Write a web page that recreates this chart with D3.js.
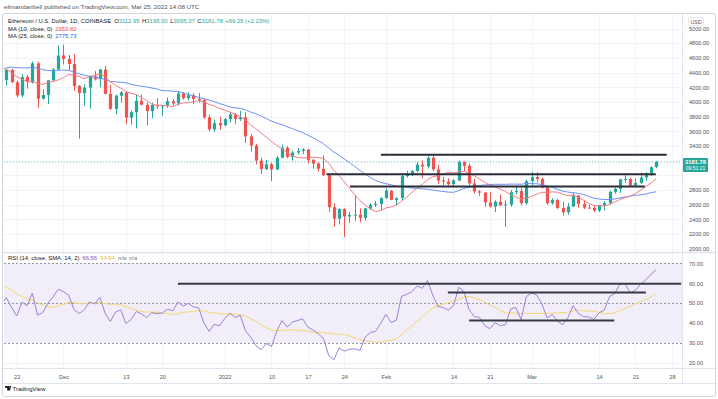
<!DOCTYPE html>
<html>
<head>
<meta charset="utf-8">
<script src="https://cdn.jsdelivr.net/npm/d3@7/dist/d3.min.js"></script>
<style>
  body { margin: 0; background: #fff; }
  svg { display: block; font-family: "Liberation Sans", Arial, sans-serif; }
</style>
</head>
<body>
<svg id="chart" width="718" height="399"></svg>
<script>
// ---- data (ETH/USD daily, Coinbase) ----
const firstDay = '2021-11-20'
// closes before the visible window, only used to warm up MA / RSI
const priorCloses = [3310, 3390, 3418, 3380, 3518, 3580, 3587, 3560, 3575, 3415,
  3543, 3493, 3606, 3788, 3867, 3829, 3847, 3748, 3877, 4155,
  4056, 3973, 4170, 4085, 4219, 4131, 3928, 4285, 4417, 4325,
  4288, 4323, 4587, 4606, 4531, 4475, 4519, 4617, 4811, 4731,
  4636, 4724, 4666, 4647, 4628, 4567, 4210, 4286, 3994, 4298]

const opens = [4297, 4437, 4268, 4088, 4340, 4270, 4525, 4043, 4095, 4295,
  4443, 4632, 4585, 4516, 4218, 4120, 4195, 4350, 4310, 4440,
  4110, 3905, 4085, 4130, 3785, 3860, 4015, 3960, 3875, 3960,
  3940, 3950, 4010, 3980, 4115, 4050, 4090, 4040, 4025, 3790,
  3625, 3710, 3680, 3765, 3830, 3765, 3790, 3530, 3405, 3200,
  3085, 3150, 3080, 3240, 3375, 3250, 3310, 3330, 3350, 3210,
  3160, 3090, 3000, 2565, 2410, 2540, 2440, 2460, 2465, 2420,
  2550, 2600, 2610, 2690, 2790, 2665, 2690, 2990, 3020, 3060,
  3145, 3120, 3240, 3080, 2930, 2915, 2880, 2930, 3180, 3130,
  2890, 2780, 2765, 2630, 2575, 2640, 2590, 2600, 2770, 2785,
  2620, 2920, 2975, 2950, 2835, 2620, 2665, 2555, 2495, 2575,
  2725, 2610, 2560, 2555, 2520, 2590, 2620, 2775, 2815, 2945,
  2950, 2860, 2895, 2970, 3030, 3112.95]
const highs = [4440, 4450, 4290, 4380, 4370, 4550, 4550, 4170, 4300, 4460,
  4770, 4780, 4640, 4650, 4230, 4240, 4360, 4420, 4450, 4490,
  4230, 4100, 4150, 4140, 3880, 4100, 4100, 3990, 3990, 4050,
  3960, 4060, 4040, 4150, 4130, 4130, 4120, 4120, 4040, 3830,
  3760, 3800, 3780, 3860, 3850, 3880, 3860, 3560, 3430, 3240,
  3210, 3170, 3260, 3420, 3400, 3330, 3370, 3370, 3360, 3220,
  3180, 3270, 3020, 2620, 2550, 2550, 2500, 2720, 2550, 2560,
  2620, 2650, 2700, 2820, 2800, 2700, 3030, 3060, 3070, 3180,
  3200, 3260, 3280, 3140, 2980, 2960, 2950, 3200, 3190, 3160,
  2950, 2800, 2770, 2770, 2660, 2740, 2660, 2800, 2850, 2830,
  2940, 3050, 3040, 2970, 2850, 2690, 2680, 2640, 2620, 2760,
  2730, 2660, 2600, 2580, 2600, 2650, 2790, 2830, 2950, 3000,
  2960, 2960, 3040, 3040, 3120, 3195]
const lows = [4220, 4260, 4060, 4060, 4180, 4250, 3920, 4030, 3970, 4280,
  4430, 4510, 4430, 4150, 3500, 3950, 3910, 4290, 4200, 4100,
  3890, 3830, 3990, 3700, 3690, 3640, 3955, 3680, 3780, 3900,
  3810, 3920, 3950, 3950, 4030, 4020, 3970, 3990, 3770, 3600,
  3590, 3620, 3670, 3720, 3700, 3740, 3440, 3320, 3150, 3020,
  3070, 2920, 3070, 3230, 3230, 3200, 3280, 3290, 3160, 3090,
  3050, 2990, 2500, 2300, 2330, 2160, 2350, 2380, 2360, 2380,
  2530, 2570, 2520, 2680, 2660, 2590, 2660, 2970, 2990, 3040,
  2960, 3090, 3060, 2880, 2860, 2860, 2830, 2920, 3060, 2860,
  2750, 2720, 2570, 2560, 2500, 2580, 2300, 2570, 2740, 2590,
  2600, 2860, 2900, 2820, 2600, 2600, 2540, 2450, 2460, 2570,
  2560, 2540, 2550, 2500, 2500, 2520, 2600, 2750, 2760, 2900,
  2850, 2850, 2880, 2930, 2990, 3095.37]
const closes = [4437, 4268, 4088, 4340, 4270, 4525, 4043, 4095, 4295, 4443,
  4632, 4585, 4516, 4218, 4120, 4195, 4350, 4310, 4440, 4110,
  3905, 4085, 4130, 3785, 3860, 4015, 3960, 3875, 3960, 3940,
  3950, 4010, 3980, 4115, 4050, 4090, 4040, 4025, 3790, 3625,
  3710, 3680, 3765, 3830, 3765, 3790, 3530, 3405, 3200, 3085,
  3150, 3080, 3240, 3375, 3250, 3310, 3330, 3350, 3210, 3160,
  3090, 3000, 2565, 2410, 2540, 2440, 2460, 2465, 2420, 2550,
  2600, 2610, 2690, 2790, 2665, 2690, 2990, 3020, 3060, 3145,
  3120, 3240, 3080, 2930, 2915, 2880, 2930, 3180, 3130, 2890,
  2780, 2765, 2630, 2575, 2640, 2590, 2600, 2770, 2785, 2620,
  2920, 2975, 2950, 2835, 2620, 2665, 2555, 2495, 2575, 2725,
  2610, 2560, 2555, 2520, 2590, 2620, 2775, 2815, 2945, 2950,
  2860, 2895, 2970, 3030, 3110, 3181.78]

// time axis labels
const tickDates = ['2021-11-22', '2021-12-01', '2021-12-13', '2021-12-20', '2022-01-01',
  '2022-01-10', '2022-01-17', '2022-01-24', '2022-02-01', '2022-02-14', '2022-02-21',
  '2022-03-01', '2022-03-14', '2022-03-21', '2022-03-28']
const tickLabels = ['22', 'Dec', '13', '20', '2022', '10', '17', '24', 'Feb', '14', '21',
  'Mar', '14', '21', '28']
const priceTicks = d3.range(2000, 5001, 200)
const rsiTicks = [20, 30, 40, 50, 60, 70]

// author's horizontal lines
const levelStart = ['2022-01-31T01:00Z', '2022-01-20T14:00Z', '2022-01-25T02:00Z']
const levelEnd = ['2022-03-27T00:00Z', '2022-03-24T22:00Z', '2022-03-22T19:00Z']
const levelPrice = [3279, 3014, 2847]
const rsiLevelStart = ['2021-12-23T00:00Z', '2022-02-12T22:00Z', '2022-02-17T00:00Z']
const rsiLevelEnd = ['2022-03-29T19:00Z', '2022-03-23T00:00Z', '2022-03-16T22:00Z']
const rsiLevelValue = [59.8, 55.3, 41.3]

// legend values
const ohlcLegend = ['3112.95', '3195.00', '3095.37', '3181.78']
const changeLegend = '+69.26 (+2.23%)'
const ma10Legend = '2953.82'
const ma25Legend = '2775.73'
const rsiLegend = ['66.56', '54.84']

// ---- derived ----
const day0 = new Date(firstDay + 'T00:00:00Z')
const bars = closes.map((c, i) => ({
  date: d3.utcDay.offset(day0, i), o: opens[i], h: highs[i], l: lows[i], c: c
}))
const allCloses = priorCloses.concat(closes)
const off = priorCloses.length

function sma (arr, n, i) {
  if (i < n - 1) return null
  let s = 0
  for (let k = i - n + 1; k <= i; k++) s += arr[k]
  return s / n
}
const ma10 = bars.map((b, i) => ({ date: b.date, v: sma(allCloses, 10, i + off) }))
const ma25 = bars.map((b, i) => ({ date: b.date, v: sma(allCloses, 25, i + off) }))

// RSI 14 (Wilder)
const rsiAll = new Array(allCloses.length).fill(null)
let up = 0, dn = 0
for (let i = 1; i < allCloses.length; i++) {
  const ch = allCloses[i] - allCloses[i - 1]
  const u = Math.max(ch, 0), d = Math.max(-ch, 0)
  if (i <= 14) {
    up += u / 14; dn += d / 14
  } else {
    up = (up * 13 + u) / 14; dn = (dn * 13 + d) / 14
  }
  if (i >= 14) rsiAll[i] = dn === 0 ? 100 : 100 - 100 / (1 + up / dn)
}
const rsiSmaAll = rsiAll.map((v, i) => {
  if (i < 27) return null
  return d3.mean(rsiAll.slice(i - 13, i + 1))
})
// include the day before the window so lines reach the left edge
const rsiLine = d3.range(-1, closes.length).map(i => ({ date: d3.utcDay.offset(day0, i), v: rsiAll[i + off] }))
const rsiSmaLine = d3.range(-1, closes.length).map(i => ({ date: d3.utcDay.offset(day0, i), v: rsiSmaAll[i + off] }))
ma10.unshift({ date: d3.utcDay.offset(day0, -1), v: sma(allCloses, 10, off - 1) })
ma25.unshift({ date: d3.utcDay.offset(day0, -1), v: sma(allCloses, 25, off - 1) })

// ---- layout ----
const svg = d3.select('#chart')
const plotL = 4, plotR = 682
const mainTop = 14, mainBot = 252, rsiBot = 368

const x = d3.scaleUtc()
  .domain([day0, d3.utcDay.offset(day0, 125)])
  .range([6.3, 656.3])
const y = d3.scaleLinear().domain([2000, 5000]).range([248.7, 28.5])
const yr = d3.scaleLinear().domain([20, 70]).range([363, 263.3])
const dayPx = x(d3.utcDay.offset(day0, 1)) - x(day0)
const bodyW = dayPx * 0.62

const green = '#26a69a', red = '#ef5350', grid = '#f0f3fa', txt = '#131722', axisTxt = '#50535e'
const lastPrice = closes[closes.length - 1]
const lastY = y(lastPrice)

svg.append('defs').append('clipPath').attr('id', 'clipMain')
  .append('rect').attr('x', plotL).attr('y', mainTop).attr('width', plotR - plotL).attr('height', mainBot - mainTop)
svg.select('defs').append('clipPath').attr('id', 'clipRsi')
  .append('rect').attr('x', plotL).attr('y', mainBot).attr('width', plotR - plotL).attr('height', rsiBot - mainBot)

// header
svg.append('text').attr('x', 4).attr('y', 9)
  .attr('font-size', 6.2).attr('fill', '#50535e')
  .text('elimandanbell published on TradingView.com, Mar 25, 2022 14:08 UTC')

// frame
svg.append('rect').attr('x', 2.5).attr('y', 13.5).attr('width', 713).attr('height', 383)
  .attr('rx', 2).attr('fill', 'none').attr('stroke', '#d1d4dc')

// grid
const gMainGrid = svg.append('g').attr('clip-path', 'url(#clipMain)')
gMainGrid.selectAll('line.h').data(priceTicks).join('line')
  .attr('x1', plotL).attr('x2', plotR).attr('y1', d => Math.round(y(d)) + 0.5).attr('y2', d => Math.round(y(d)) + 0.5)
  .attr('stroke', grid)
const vx = tickDates.map(d => Math.round(x(new Date(d + 'T00:00:00Z'))) + 0.5)
gMainGrid.selectAll('line.v').data(vx).join('line')
  .attr('x1', d => d).attr('x2', d => d).attr('y1', mainTop).attr('y2', mainBot).attr('stroke', grid)

// RSI background band and grid
const gRsi = svg.append('g').attr('clip-path', 'url(#clipRsi)')
gRsi.append('rect').attr('x', plotL).attr('width', plotR - plotL)
  .attr('y', yr(70)).attr('height', yr(30) - yr(70)).attr('fill', 'rgba(126,87,194,0.1)')
gRsi.selectAll('line.v').data(vx).join('line')
  .attr('x1', d => d).attr('x2', d => d).attr('y1', mainBot).attr('y2', rsiBot).attr('stroke', grid)
gRsi.selectAll('line.h').data([40, 60, 20]).join('line')
  .attr('x1', plotL).attr('x2', plotR).attr('y1', d => Math.round(yr(d)) + 0.5).attr('y2', d => Math.round(yr(d)) + 0.5)
  .attr('stroke', grid)
gRsi.selectAll('line.d').data([70, 50, 30]).join('line')
  .attr('x1', plotL).attr('x2', plotR).attr('y1', d => Math.round(yr(d)) + 0.5).attr('y2', d => Math.round(yr(d)) + 0.5)
  .attr('stroke', '#9598a1').attr('stroke-dasharray', '2,2')

// panel borders
svg.append('line').attr('x1', plotR + 0.5).attr('x2', plotR + 0.5).attr('y1', mainTop).attr('y2', 383).attr('stroke', '#e0e3eb')
svg.append('line').attr('x1', 3).attr('x2', 715).attr('y1', mainBot + 0.5).attr('y2', mainBot + 0.5).attr('stroke', '#e0e3eb').attr('stroke-width', 1.5)
svg.append('line').attr('x1', 3).attr('x2', 715).attr('y1', rsiBot + 0.5).attr('y2', rsiBot + 0.5).attr('stroke', '#e0e3eb')
svg.append('line').attr('x1', 3).attr('x2', 715).attr('y1', 383.5).attr('y2', 383.5).attr('stroke', '#e0e3eb')

// candles
const gC = svg.append('g').attr('clip-path', 'url(#clipMain)')
const candle = gC.selectAll('g.c').data(bars).join('g')
candle.append('line')
  .attr('x1', d => Math.round(x(d.date)) + 0.5).attr('x2', d => Math.round(x(d.date)) + 0.5)
  .attr('y1', d => y(d.h)).attr('y2', d => y(d.l))
  .attr('stroke', d => d.c >= d.o ? green : red).attr('stroke-width', 1)
candle.append('rect')
  .attr('x', d => Math.round(x(d.date)) + 0.5 - bodyW / 2).attr('width', bodyW)
  .attr('y', d => y(Math.max(d.o, d.c)))
  .attr('height', d => Math.max(1, Math.abs(y(d.o) - y(d.c))))
  .attr('fill', d => d.c >= d.o ? green : red)

// moving averages
const maLine = d3.line().defined(d => d.v != null).x(d => x(d.date)).y(d => y(d.v))
gC.append('path').datum(ma25).attr('d', maLine).attr('fill', 'none').attr('stroke', '#6d8ff7').attr('stroke-width', 1)
gC.append('path').datum(ma10).attr('d', maLine).attr('fill', 'none').attr('stroke', '#f77c80').attr('stroke-width', 1)

// last price dotted line
gC.append('line').attr('x1', plotL).attr('x2', plotR)
  .attr('y1', lastY).attr('y2', lastY)
  .attr('stroke', green).attr('stroke-opacity', 0.6).attr('stroke-dasharray', '1,2')

// horizontal levels
gC.selectAll('line.lv').data(levelPrice).join('line')
  .attr('x1', (d, i) => x(new Date(levelStart[i]))).attr('x2', (d, i) => x(new Date(levelEnd[i])))
  .attr('y1', d => y(d)).attr('y2', d => y(d))
  .attr('stroke', '#2a2e39').attr('stroke-width', 2)

// RSI lines
const rLine = d3.line().defined(d => d.v != null).x(d => x(d.date)).y(d => yr(d.v))
gRsi.append('path').datum(rsiSmaLine).attr('d', rLine).attr('fill', 'none').attr('stroke', '#f5d76e').attr('stroke-width', 1)
gRsi.append('path').datum(rsiLine).attr('d', rLine).attr('fill', 'none').attr('stroke', '#9c82d6').attr('stroke-width', 1)
gRsi.selectAll('line.lv').data(rsiLevelValue).join('line')
  .attr('x1', (d, i) => x(new Date(rsiLevelStart[i]))).attr('x2', (d, i) => x(new Date(rsiLevelEnd[i])))
  .attr('y1', d => yr(d)).attr('y2', d => yr(d))
  .attr('stroke', '#363a45').attr('stroke-width', 2)

// price axis (labels under the last price badge are hidden, like TradingView)
const shownPriceTicks = priceTicks.filter(p => Math.abs(y(p) - (lastY + 3)) > 11)
const yAxis = svg.append('g').attr('transform', `translate(${plotR + 4},0)`)
  .call(d3.axisRight(y).tickValues(shownPriceTicks).tickFormat(d3.format('.2f')).tickSize(0))
yAxis.select('.domain').remove()
yAxis.selectAll('text').attr('font-size', 5.6).attr('fill', axisTxt).attr('font-family', 'Liberation Sans, Arial, sans-serif')

const rAxis = svg.append('g').attr('transform', `translate(${plotR + 4},0)`)
  .call(d3.axisRight(yr).tickValues(rsiTicks).tickFormat(d3.format('.2f')).tickSize(0))
rAxis.select('.domain').remove()
rAxis.selectAll('text').attr('font-size', 5.6).attr('fill', axisTxt).attr('font-family', 'Liberation Sans, Arial, sans-serif')

// USD badge
svg.append('rect').attr('x', 688.5).attr('y', 17.5).attr('width', 15).attr('height', 8).attr('rx', 2)
  .attr('fill', '#fff').attr('stroke', '#e0e3eb')
svg.append('text').attr('x', 696).attr('y', 23.5).attr('text-anchor', 'middle')
  .attr('font-size', 5.2).attr('fill', axisTxt).text('USD')

// last price badge
svg.append('rect').attr('x', plotR + 1).attr('y', lastY - 4).attr('width', 25).attr('height', 14)
  .attr('rx', 1).attr('fill', green)
svg.append('text').attr('x', plotR + 13.5).attr('y', lastY + 2.2).attr('text-anchor', 'middle')
  .attr('font-size', 5.8).attr('font-weight', 'bold').attr('fill', '#fff').text(ohlcLegend[3])
svg.append('text').attr('x', plotR + 13.5).attr('y', lastY + 8).attr('text-anchor', 'middle')
  .attr('font-size', 5).attr('fill', '#fff').text('09:51:21')

// time axis
const xAxis = svg.append('g').attr('transform', `translate(0,${rsiBot + 4})`)
  .call(d3.axisBottom(x).tickValues(tickDates.map(d => new Date(d + 'T00:00:00Z')))
    .tickFormat((d, i) => tickLabels[i]).tickSize(0))
xAxis.select('.domain').remove()
xAxis.selectAll('text').attr('font-size', 5.6).attr('fill', axisTxt).attr('font-family', 'Liberation Sans, Arial, sans-serif')

// legends
const lg = svg.append('g').attr('font-size', 5.9)
const l1 = lg.append('text').attr('x', 8).attr('y', 22.5).attr('fill', txt)
l1.append('tspan').text('Ethereum / U.S. Dollar, 1D, COINBASE')
;['O', 'H', 'L', 'C'].forEach((k, i) => {
  l1.append('tspan').attr('dx', i === 0 ? 3 : 2.5).text(k)
  l1.append('tspan').attr('fill', green).text(ohlcLegend[i])
})
l1.append('tspan').attr('dx', 2.5).attr('fill', green).text(changeLegend)

const l2 = lg.append('text').attr('x', 8).attr('y', 30.5).attr('fill', txt)
l2.append('tspan').text('MA (10, close, 0)')
l2.append('tspan').attr('dx', 3).attr('fill', red).text(ma10Legend)
const l3 = lg.append('text').attr('x', 8).attr('y', 38).attr('fill', txt)
l3.append('tspan').text('MA (25, close, 0)')
l3.append('tspan').attr('dx', 3).attr('fill', '#2962ff').text(ma25Legend)

const l4 = lg.append('text').attr('x', 8).attr('y', 259.5).attr('fill', txt)
l4.append('tspan').text('RSI (14, close, SMA, 14, 2)')
l4.append('tspan').attr('dx', 3).attr('fill', '#7e57c2').text(rsiLegend[0])
l4.append('tspan').attr('dx', 3).attr('fill', '#e8c547').text(rsiLegend[1])
l4.append('tspan').attr('dx', 3).attr('fill', '#787b86').text('n/a')
l4.append('tspan').attr('dx', 3).attr('fill', '#787b86').text('n/a')

// TradingView mark
const tv = svg.append('g').attr('transform', 'translate(5,386)')
tv.append('path').attr('d', 'M0,0h4v4.5h-1.8v-2.7H0z M4.6,0h1.6l-1.2,4.5h-1.2z').attr('fill', txt)
tv.append('text').attr('x', 7.5).attr('y', 4.6).attr('font-size', 6).attr('fill', txt).text('TradingView')
</script>
</body>
</html>
